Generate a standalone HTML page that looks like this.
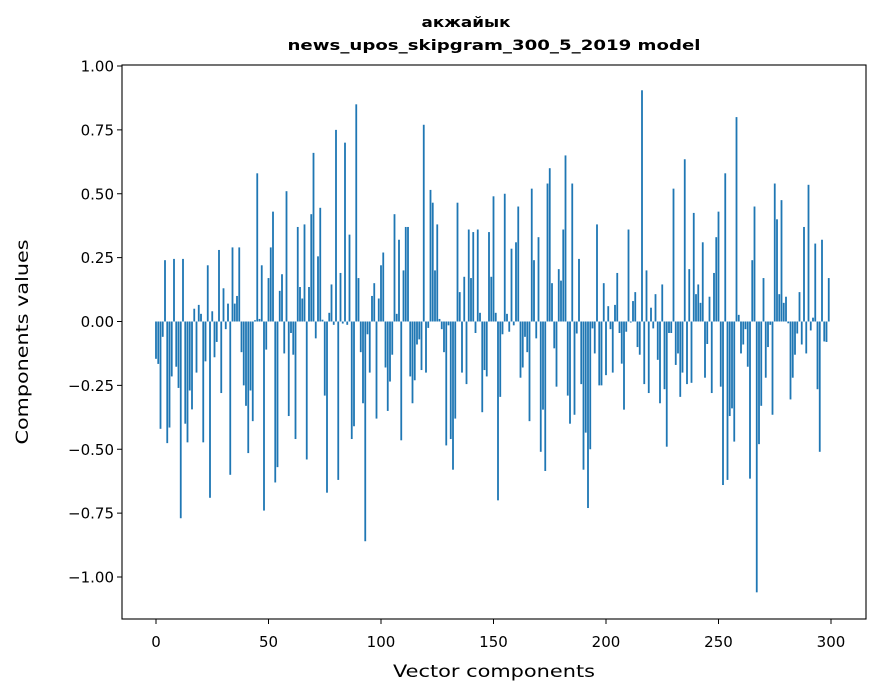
<!DOCTYPE html>
<html><head><meta charset="utf-8"><style>
html,body{margin:0;padding:0;background:#fff;}
svg{display:block;font-family:"DejaVu Sans","Liberation Sans",sans-serif;}
</style></head><body>
<svg id="chart" width="880" height="696" viewBox="0 0 880 696" xmlns="http://www.w3.org/2000/svg">
<rect x="0" y="0" width="880" height="696" fill="#fff"/>
<text x="466" y="27" font-size="14" font-weight="bold" text-anchor="middle" textLength="89" lengthAdjust="spacingAndGlyphs">акжайык</text>
<text x="494" y="50" font-size="14" font-weight="bold" text-anchor="middle" textLength="413" lengthAdjust="spacingAndGlyphs">news_upos_skipgram_300_5_2019 model</text>
<g id="bars"></g>
<g id="xaxis"></g>
<g id="yaxis"></g>
<rect x="122" y="65" width="744" height="554" fill="none" stroke="#000" stroke-width="1.1"/>
<text x="494" y="677" text-anchor="middle" font-size="17" textLength="202" lengthAdjust="spacingAndGlyphs">Vector components</text>
<text transform="translate(28,342) rotate(-90)" text-anchor="middle" font-size="17" textLength="205" lengthAdjust="spacingAndGlyphs">Components values</text>
</svg>
<script>
const values = [
-0.146,-0.166,-0.42,-0.06,0.24,-0.476,-0.415,-0.215,0.245,-0.177,
-0.26,-0.77,0.245,-0.40,-0.473,-0.27,-0.344,0.05,-0.2,0.065,
0.03,-0.473,-0.156,0.22,-0.69,0.04,-0.14,-0.08,0.28,-0.28,
0.13,-0.03,0.07,-0.60,0.29,0.07,0.10,0.29,-0.12,-0.25,
-0.33,-0.515,-0.27,-0.39,0.005,0.58,0.01,0.22,-0.74,-0.11,
0.17,0.29,0.43,-0.63,-0.57,0.12,0.185,-0.125,0.51,-0.37,
-0.045,-0.13,-0.46,0.37,0.135,0.09,0.38,-0.54,0.135,0.42,
0.66,-0.066,0.255,0.445,0.007,-0.29,-0.67,0.034,0.145,-0.013,
0.75,-0.62,0.19,-0.008,0.70,-0.013,0.34,-0.46,-0.41,0.85,
0.17,-0.12,-0.32,-0.86,-0.05,-0.20,0.10,0.15,-0.38,0.09,
0.22,0.27,-0.18,-0.35,-0.235,-0.13,0.42,0.03,0.32,-0.465,
0.20,0.37,0.37,-0.215,-0.32,-0.23,-0.09,-0.07,-0.19,0.77,
-0.20,-0.025,0.515,0.465,0.20,0.38,0.01,-0.03,-0.12,-0.485,
-0.015,-0.46,-0.58,-0.38,0.465,0.115,-0.20,0.175,-0.245,0.36,
0.17,0.35,-0.045,0.36,0.034,-0.355,-0.19,-0.215,0.35,0.175,
0.49,0.034,-0.70,-0.295,-0.05,0.50,0.03,-0.04,0.285,-0.015,
0.31,0.45,-0.22,-0.18,-0.06,-0.12,-0.39,0.52,0.24,-0.066,
0.33,-0.51,-0.345,-0.585,0.54,0.60,0.15,-0.105,-0.255,0.205,
0.16,0.36,0.65,-0.29,-0.40,0.54,-0.365,-0.047,0.245,-0.245,
-0.58,-0.435,-0.73,-0.50,-0.027,-0.125,0.38,-0.25,-0.25,0.15,
-0.21,0.06,-0.03,-0.20,0.065,0.19,-0.045,-0.165,-0.345,-0.04,
0.36,-0.004,0.08,0.115,-0.10,-0.13,0.905,-0.245,0.20,-0.28,
0.054,-0.027,0.107,-0.15,-0.32,0.145,-0.265,-0.49,-0.045,-0.045,
0.52,-0.17,-0.125,-0.295,-0.20,0.635,-0.245,0.205,-0.24,0.425,
0.107,0.145,0.073,0.31,-0.22,-0.088,0.097,-0.28,0.19,0.33,
0.43,-0.255,-0.64,0.58,-0.62,-0.37,-0.34,-0.47,0.80,0.026,
-0.125,-0.09,-0.03,-0.177,-0.615,0.24,0.45,-1.06,-0.48,-0.33,
0.17,-0.22,-0.10,-0.013,-0.365,0.54,0.40,0.107,0.475,0.073,
0.097,-0.007,-0.305,-0.22,-0.13,-0.047,0.115,-0.09,0.37,-0.125,
0.535,-0.035,0.015,0.305,-0.265,-0.51,0.32,-0.078,-0.08,0.17
];
const xTicks = [0,50,100,150,200,250,300];
const yTicks = [1.00,0.75,0.50,0.25,0.00,-0.25,-0.50,-0.75,-1.00];
const yTickLabels = ["1.00","0.75","0.50","0.25","0.00","\u22120.25","\u22120.50","\u22120.75","\u22121.00"];

const NS = "http://www.w3.org/2000/svg";
function xScale(v){ return 156 + v*2.25; }
function yScale(v){ return 321.5 - v*255.5; }
const barW = 0.8*2.25;

const gBars = document.getElementById('bars');
values.forEach((v,i)=>{
  const r = document.createElementNS(NS,'rect');
  const y0 = yScale(0), y1 = yScale(v);
  r.setAttribute('x', xScale(i)-barW/2);
  r.setAttribute('y', Math.min(y0,y1));
  r.setAttribute('width', barW);
  r.setAttribute('height', Math.max(Math.abs(y1-y0),0.3));
  r.setAttribute('fill','#1f77b4');
  
  
  gBars.appendChild(r);
});

const gx = document.getElementById('xaxis');
xTicks.forEach(t=>{
  const x = xScale(t);
  const l = document.createElementNS(NS,'line');
  l.setAttribute('x1',x); l.setAttribute('x2',x);
  l.setAttribute('y1',619); l.setAttribute('y2',624);
  l.setAttribute('stroke','#000');
  
  
  gx.appendChild(l);
  const tx = document.createElementNS(NS,'text');
  tx.setAttribute('x',x); tx.setAttribute('y',647);
  tx.setAttribute('text-anchor','middle'); tx.setAttribute('font-size','15');
  tx.textContent = String(t);
  
  
  gx.appendChild(tx);
});

const gy = document.getElementById('yaxis');
yTicks.forEach((t,k)=>{
  const y = yScale(t);
  const l = document.createElementNS(NS,'line');
  l.setAttribute('x1',117); l.setAttribute('x2',122);
  l.setAttribute('y1',y); l.setAttribute('y2',y);
  l.setAttribute('stroke','#000');
  
  
  gy.appendChild(l);
  const tx = document.createElementNS(NS,'text');
  tx.setAttribute('x',114); tx.setAttribute('y',y+5.5);
  tx.setAttribute('text-anchor','end'); tx.setAttribute('font-size','15');
  tx.textContent = yTickLabels[k];
  
  
  gy.appendChild(tx);
});
</script>
</body></html>
